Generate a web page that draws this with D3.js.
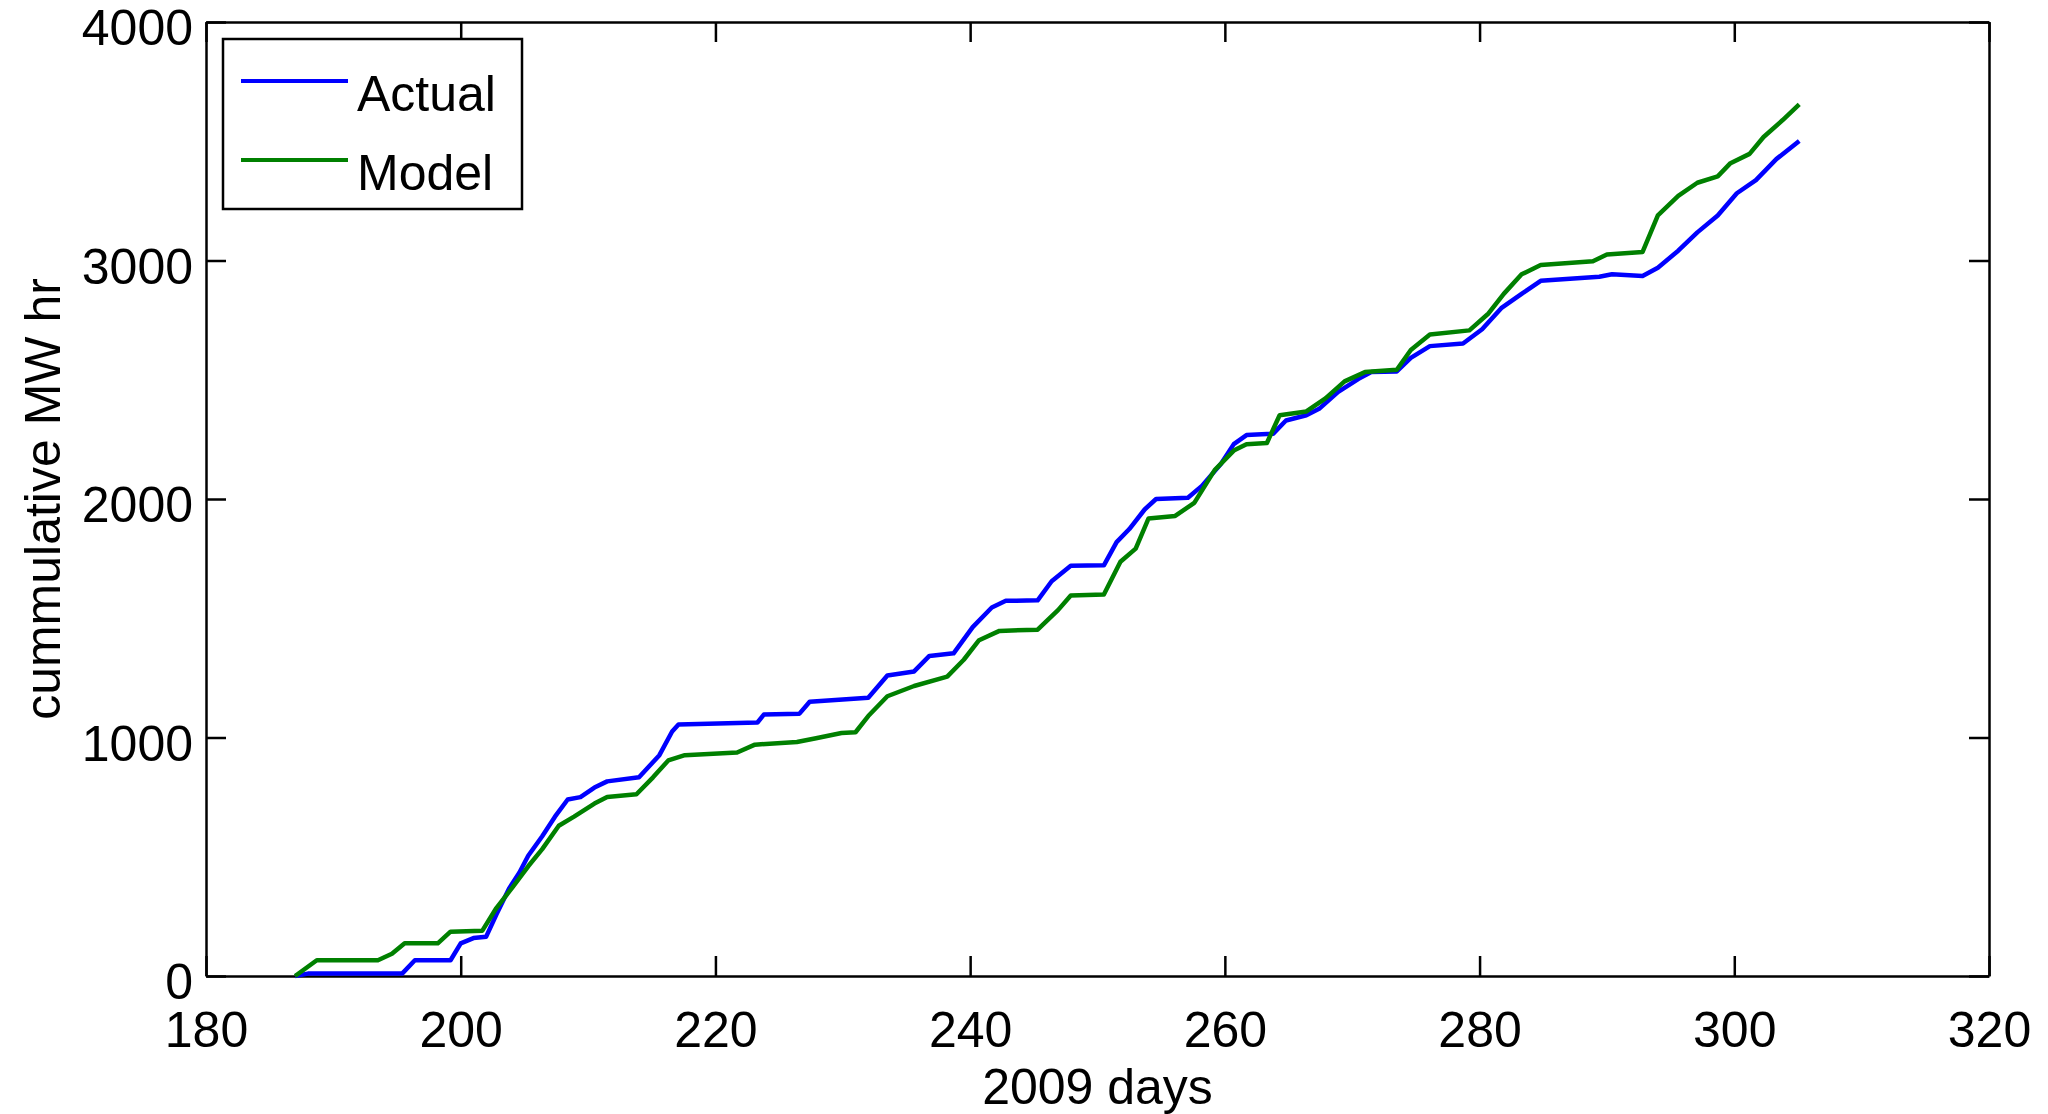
<!DOCTYPE html>
<html>
<head>
<meta charset="utf-8">
<script src="https://cdn.jsdelivr.net/npm/d3@7"></script>
<style>
    body { margin: 0; background: #fff; }
    svg text { font-family: "Liberation Sans", Arial, sans-serif; fill: #000; }
</style>
</head>
<body>
<svg id="chart"></svg>
<script>
// values (day of 2009, cumulative MW hr)
const actualDays = [187, 188, 195.4, 196.4, 199.2, 200, 201, 202, 202.8, 203.8, 204.6, 205.3, 206.4, 207.4, 208.4, 209.4, 210.5, 211.5, 214, 215.6, 216.6, 217.1, 223.3, 223.8, 226.6, 227.4, 232, 233.5, 235.6, 236.8, 238.7, 240.2, 241.7, 242.8, 245.3, 246.4, 247.9, 250.5, 251.5, 252.5, 253.7, 254.6, 257.1, 258.2, 259.7, 260.7, 261.7, 263.8, 264.8, 266.4, 267.4, 268.9, 270.5, 271.5, 273.5, 274.6, 276.1, 278.7, 280.2, 281.7, 283.3, 284.8, 289.4, 290.4, 292.8, 294, 295.6, 297.1, 298.7, 300.2, 301.7, 303.3, 305.1];
const actualMWh = [0, 10, 10, 66, 66, 137, 159, 165, 258, 367, 433, 504, 586, 668, 740, 750, 790, 816, 833, 926, 1025, 1055, 1063, 1096, 1100, 1150, 1167, 1260, 1277, 1342, 1353, 1463, 1545, 1573, 1575, 1655, 1720, 1722, 1819, 1874, 1956, 2000, 2005, 2055, 2148, 2230, 2268, 2274, 2329, 2351, 2378, 2449, 2504, 2532, 2535, 2592, 2641, 2652, 2712, 2800, 2860, 2915, 2932, 2942, 2935, 2970, 3041, 3118, 3189, 3282, 3337, 3425, 3501];

const modelDays = [187, 188.7, 193.5, 194.6, 195.6, 198.2, 199.2, 201.7, 202.8, 204, 205.3, 206.4, 207.7, 208.9, 210.5, 211.5, 213.8, 215.1, 216.3, 217.6, 221.7, 223.1, 226.4, 227.9, 229.9, 231, 232, 233.5, 235.6, 238.2, 239.5, 240.7, 242.3, 245.3, 246.9, 247.9, 250.5, 251.8, 253, 254, 256.1, 257.6, 259.2, 260.7, 261.7, 263.3, 264.3, 266.4, 267.9, 269.4, 271, 273.5, 274.6, 276.1, 279.2, 280.7, 281.9, 283.3, 284.8, 288.9, 290, 292.8, 294, 295.6, 297.1, 298.7, 299.7, 301.2, 302.3, 303.8, 305.1];
const modelMWh = [0, 66, 66, 93, 137, 137, 186, 190, 285, 367, 460, 532, 630, 668, 723, 751, 762, 833, 904, 926, 937, 970, 981, 997, 1019, 1022, 1090, 1173, 1216, 1255, 1326, 1408, 1447, 1452, 1534, 1595, 1600, 1737, 1792, 1918, 1929, 1984, 2121, 2203, 2230, 2235, 2351, 2367, 2422, 2493, 2532, 2542, 2625, 2690, 2707, 2778, 2860, 2942, 2981, 2997, 3025, 3036, 3189, 3271, 3326, 3353, 3408, 3447, 3518, 3589, 3655];

const xTicks = [180, 200, 220, 240, 260, 280, 300, 320];
const yTicks = [0, 1000, 2000, 3000, 4000];
const seriesNames = ["Actual", "Model"];
const seriesColors = ["#0000ff", "#008000"];

const W = 2048, H = 1114;
const margin = { top: 22, right: 59, bottom: 138, left: 206 };
const width = W - margin.left - margin.right,
    height = H - margin.top - margin.bottom;
const fontSize = 50;

const svg = d3.select("#chart").attr("width", W).attr("height", H);
const g = svg.append("g").attr("transform", `translate(${margin.left},${margin.top})`);

const x = d3.scaleLinear().domain([180, 320]).range([0, width]);
const y = d3.scaleLinear().domain([0, 4000]).range([height, 0]);

function styleAxis(sel) {
    sel.select(".domain").attr("stroke", "#000").attr("stroke-width", 2.5);
    sel.selectAll(".tick line").attr("stroke", "#000").attr("stroke-width", 2.5);
    sel.selectAll("text").style("font-size", fontSize + "px").attr("fill", "#000");
}

// bottom and left axes carry labels, ticks point inward
g.append("g")
    .attr("transform", `translate(0,${height})`)
    .call(d3.axisBottom(x).tickValues(xTicks).tickFormat(d3.format("d"))
        .tickSizeInner(-20).tickSizeOuter(0).tickPadding(35))
    .call(styleAxis);

g.append("g")
    .call(d3.axisLeft(y).tickValues(yTicks).tickFormat(d3.format("d"))
        .tickSizeInner(-20).tickSizeOuter(0).tickPadding(13))
    .call(styleAxis)
    .selectAll("text").attr("dy", "0.45em");

// top and right: ticks only (box on)
g.append("g")
    .call(d3.axisTop(x).tickValues(xTicks).tickFormat("")
        .tickSizeInner(-20).tickSizeOuter(0))
    .call(styleAxis);

g.append("g")
    .attr("transform", `translate(${width},0)`)
    .call(d3.axisRight(y).tickValues(yTicks).tickFormat("")
        .tickSizeInner(-20).tickSizeOuter(0))
    .call(styleAxis);

// series
const line = d3.line().x(d => x(d[0])).y(d => y(d[1]));
const series = [
    d3.zip(actualDays, actualMWh),
    d3.zip(modelDays, modelMWh)
];

series.forEach((pts, i) => {
    g.append("path")
        .datum(pts)
        .attr("fill", "none")
        .attr("stroke", seriesColors[i])
        .attr("stroke-width", 4.5)
        .attr("stroke-linejoin", "round")
        .attr("d", line);
});

// axis titles
svg.append("text")
    .attr("x", margin.left + width / 2)
    .attr("y", 1104)
    .attr("text-anchor", "middle")
    .style("font-size", fontSize + "px")
    .text("2009 days");

svg.append("text")
    .attr("transform", `translate(60,${margin.top + height / 2}) rotate(-90)`)
    .attr("text-anchor", "middle")
    .style("font-size", fontSize + "px")
    .text("cummulative MW hr");

// legend
const legend = svg.append("g");
legend.append("rect")
    .attr("x", 223).attr("y", 39)
    .attr("width", 299).attr("height", 170)
    .attr("fill", "#fff")
    .attr("stroke", "#000")
    .attr("stroke-width", 2.5);

seriesNames.forEach((name, i) => {
    const ly = 81 + i * 79;
    legend.append("line")
        .attr("x1", 241).attr("x2", 348)
        .attr("y1", ly).attr("y2", ly)
        .attr("stroke", seriesColors[i])
        .attr("stroke-width", 4);
    legend.append("text")
        .attr("x", 357)
        .attr("y", ly + 30)
        .style("font-size", fontSize + "px")
        .text(name);
});
</script>
</body>
</html>
